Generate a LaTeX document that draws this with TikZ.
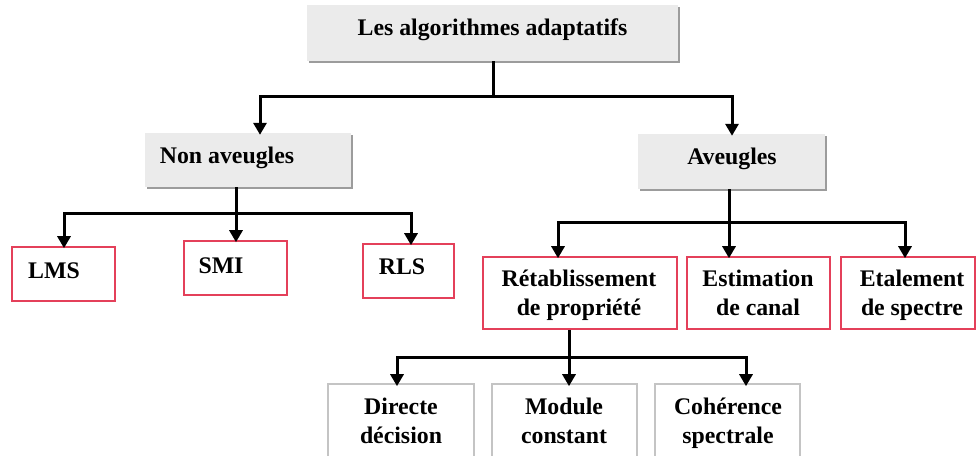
\documentclass[tikz,border=0pt]{standalone}
\usepackage{fontspec}
\setmainfont{Liberation Serif}
\usetikzlibrary{arrows.meta,shadows}
\definecolor{boxgray}{HTML}{EBEBEB}
\definecolor{shadowgray}{HTML}{9C9C9C}
\definecolor{boxred}{HTML}{E4405A}
\definecolor{leafgray}{HTML}{C4C4C4}
\begin{document}
\begin{tikzpicture}[x=1pt,y=-1pt,
  graybox/.style={draw=none,fill=boxgray,inner sep=0pt,
    general shadow={fill=shadowgray,shadow xshift=1.5pt,shadow yshift=-1.5pt}},
  redbox/.style={draw=boxred,line width=1.6pt,fill=white,inner sep=0pt},
  leafbox/.style={draw=leafgray,line width=1.6pt,fill=white,inner sep=0pt},
  lbl/.style={font=\fontsize{23.8}{28.5}\selectfont\bfseries,inner sep=0pt,align=center,anchor=base},
  wire/.style={line width=3pt},
  arr/.style={line width=3pt,-{Triangle[width=13pt,length=12pt]}}]
\useasboundingbox (0,0) rectangle (976,455);

% boxes
\node[graybox,minimum width=371pt,minimum height=56pt] (top) at (492.5,33) {};
\node[graybox,minimum width=206pt,minimum height=54pt] (na) at (248,160) {};
\node[graybox,minimum width=187pt,minimum height=55pt] (av) at (731.5,161.5) {};
\node[redbox,minimum width=103pt,minimum height=54pt] (lms) at (63.5,274) {};
\node[redbox,minimum width=103pt,minimum height=54pt] (smi) at (235.5,268) {};
\node[redbox,minimum width=91pt,minimum height=54pt] (rls) at (408.5,271) {};
\node[redbox,minimum width=194pt,minimum height=72pt] (ret) at (580,293) {};
\node[redbox,minimum width=143pt,minimum height=72pt] (est) at (758.5,293) {};
\node[redbox,minimum width=134pt,minimum height=72pt] (eta) at (908,293) {};
\node[leafbox,minimum width=146pt,minimum height=86pt] (dir) at (401,427) {};
\node[leafbox,minimum width=145pt,minimum height=86pt] (mod) at (564.5,427) {};
\node[leafbox,minimum width=145pt,minimum height=86pt] (coh) at (727.5,427) {};

% labels (two-line labels sit on the baseline of their last line)
\node[lbl] (ttop) at (492.5,35) {Les algorithmes adaptatifs};
\node[lbl] (tna) at (227,163) {Non aveugles};
\node[lbl] (tav) at (732,164) {Aveugles};
\node[lbl] (tlms) at (54,278) {LMS};
\node[lbl] (tsmi) at (221,273) {SMI};
\node[lbl] (trls) at (402,274) {RLS};
\node[lbl] (tret) at (579,315) {Rétablissement\\de propriété};
\node[lbl] (test) at (758,315) {Estimation\\de canal};
\node[lbl] (teta) at (912,315) {Etalement\\de spectre};
\node[lbl] (tdir) at (401,443) {Directe\\décision};
\node[lbl] (tmod) at (564,443) {Module\\constant};
\node[lbl] (tcoh) at (728,443) {Cohérence\\spectrale};

% first level
\coordinate (j0) at (493,96);
\draw[wire] ([xshift=0.5pt]top.south) -- (j0);
\draw[arr] (j0) -| ([xshift=12pt,yshift=-2pt]na.north);
\draw[arr] (j0) -| ([xshift=0.5pt,yshift=-2pt]av.north);

% non aveugles
\coordinate (j1) at (236,213);
\draw[wire] ([xshift=-12pt]na.south) -- (j1);
\draw[arr] (j1) -| ([xshift=0.5pt,yshift=-2pt]lms.north);
\draw[arr] (j1) -- ([xshift=0.5pt,yshift=-2pt]smi.north);
\draw[arr] (j1) -| ([xshift=2.5pt,yshift=-2pt]rls.north);

% aveugles
\coordinate (j2) at (729,222);
\draw[wire] ([xshift=-2.5pt]av.south) -- (j2);
\draw[arr] (j2) -| ([xshift=-22pt,yshift=-2pt]ret.north);
\draw[arr] (j2) -| ([xshift=-29.5pt,yshift=-2pt]est.north);
\draw[arr] (j2) -| ([xshift=-3pt,yshift=-2pt]eta.north);

% retablissement
\coordinate (j3) at (569,357);
\draw[wire] ([xshift=-11pt]ret.south) -- (j3);
\draw[arr] (j3) -| ([xshift=-4pt,yshift=-3pt]dir.north);
\draw[arr] (j3) -| ([xshift=4.5pt,yshift=-3pt]mod.north);
\draw[arr] (j3) -| ([xshift=18.5pt,yshift=-3pt]coh.north);
\end{tikzpicture}
\end{document}
